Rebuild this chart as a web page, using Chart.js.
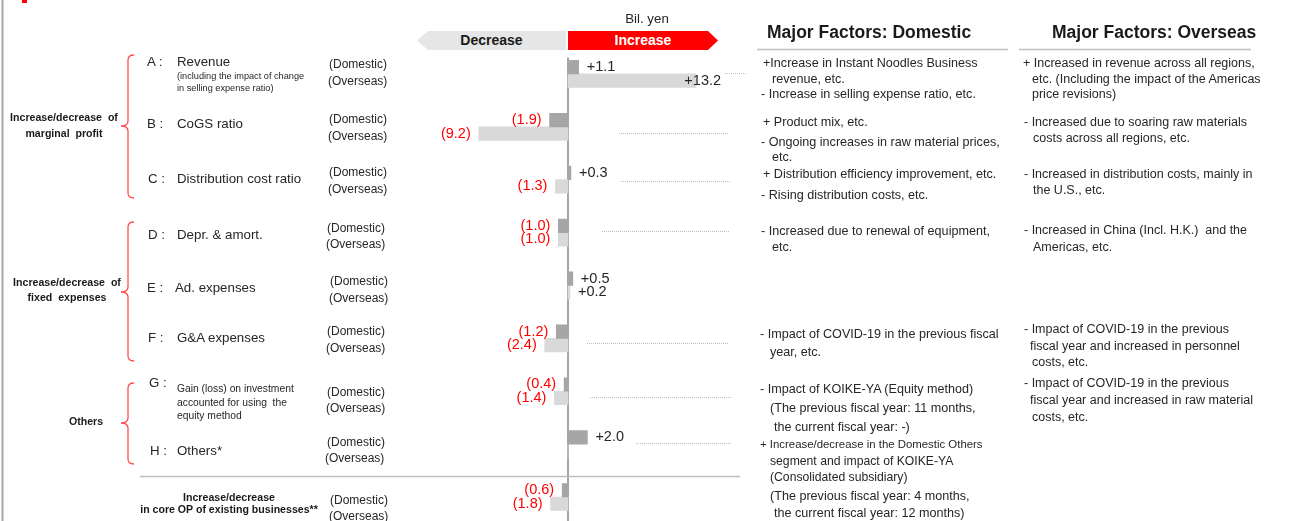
<!DOCTYPE html>
<html>
<head>
<meta charset="utf-8">
<script src="https://cdn.jsdelivr.net/npm/chart.js@4/dist/chart.umd.min.js"></script>
<style>
  html, body { margin: 0; padding: 0; width: 1305px; height: 521px; overflow: hidden; background: #fff; }
  body { position: relative; font-family: 'Liberation Sans', Arial, sans-serif; color: #262626; }
  #chart { position: absolute; left: 0; top: 0; }
  #deco { position: absolute; left: 0; top: 0; }
  .t { position: absolute; transform: translateY(-50%); white-space: pre; line-height: 1; font-size: 13.3px; }
  .c { transform: translate(-50%, -50%); }
  .grp { font-size: 10.6px; font-weight: bold; color: #1a1a1a; }
  .reg { font-size: 12px; }
  .small { font-size: 9.2px; }
  .gain { font-size: 10.3px; }
  .hdr { font-size: 17.5px; font-weight: bold; color: #1a1a1a; }
  .dom { font-size: 12.6px; }
  .ovs { font-size: 12.5px; }
  .arrow { position: absolute; top: 31px; height: 19px; font-weight: bold; font-size: 14px; line-height: 19px; text-align: center; }
</style>
</head>
<body>
<canvas id="chart" width="1305" height="530"></canvas>

<svg id="deco" width="1305" height="521">
  <line x1="2.5" y1="0" x2="2.5" y2="521" stroke="#a6a6a6" stroke-width="2"/>
  <rect x="22" y="0" width="5" height="3" fill="#ff0000"/>
  <g fill="none" stroke="#ff4d4d" stroke-width="1.3">
    <path d="M134,55 Q128,55 128,60 L128,121 Q128,126 121,126 Q128,126 128,131 L128,193 Q128,198 134,198"/>
    <path d="M134,222 Q128,222 128,227 L128,287 Q128,292 121,292 Q128,292 128,297 L128,356 Q128,361 134,361"/>
    <path d="M134,383 Q128,383 128,388 L128,418 Q128,423 121,423 Q128,423 128,428 L128,459 Q128,464 134,464"/>
  </g>
  <line x1="140" y1="476.5" x2="740" y2="476.5" stroke="#bfbfbf" stroke-width="1.3"/>
  <line x1="757" y1="49.5" x2="1008" y2="49.5" stroke="#bfbfbf" stroke-width="1.5"/>
  <line x1="1019" y1="49.5" x2="1251" y2="49.5" stroke="#bfbfbf" stroke-width="1.5"/>
  <g stroke="#bdbdbd" stroke-width="1" stroke-dasharray="1 1">
    <line x1="725" y1="73.5" x2="746" y2="73.5"/>
    <line x1="619" y1="133.5" x2="729" y2="133.5"/>
    <line x1="621" y1="181.5" x2="731" y2="181.5"/>
    <line x1="602" y1="231.5" x2="730" y2="231.5"/>
    <line x1="587" y1="343.5" x2="729" y2="343.5"/>
    <line x1="590" y1="397.5" x2="731" y2="397.5"/>
    <line x1="636" y1="443.5" x2="732" y2="443.5"/>
  </g>
</svg>

<!-- header -->
<div class="t c" style="left:647px;top:19px;">Bil. yen</div>
<div class="arrow" style="left:417px;width:149px;background:#e6e6e6;color:#1a1a1a;clip-path:polygon(0 50%,11px 0,100% 0,100% 100%,11px 100%);">Decrease</div>
<div class="arrow" style="left:568px;width:150px;background:#ff0000;color:#fff;clip-path:polygon(0 0,calc(100% - 10px) 0,100% 50%,calc(100% - 10px) 100%,0 100%);">Increase</div>

<!-- group labels -->
<div class="t c grp" style="left:64px;top:117px;">Increase/decrease  of</div>
<div class="t c grp" style="left:64px;top:133px;">marginal  profit</div>
<div class="t c grp" style="left:67px;top:282px;">Increase/decrease  of</div>
<div class="t c grp" style="left:67px;top:297px;">fixed  expenses</div>
<div class="t c grp" style="left:86px;top:421px;">Others</div>
<div class="t c grp" style="left:229px;top:497px;">Increase/decrease</div>
<div class="t c grp" style="left:229px;top:509px;">in core OP of existing businesses**</div>

<!-- item labels -->
<div class="t" style="left:147px;top:62px;">A :</div>
<div class="t" style="left:177px;top:62px;">Revenue</div>
<div class="t small" style="left:177px;top:77px;">(including the impact of change</div>
<div class="t small" style="left:177px;top:89px;">in selling expense ratio)</div>
<div class="t" style="left:147px;top:124px;">B :</div>
<div class="t" style="left:177px;top:124px;">CoGS ratio</div>
<div class="t" style="left:148px;top:179px;">C :</div>
<div class="t" style="left:177px;top:179px;">Distribution cost ratio</div>
<div class="t" style="left:148px;top:235px;">D :</div>
<div class="t" style="left:177px;top:235px;">Depr. &amp; amort.</div>
<div class="t" style="left:147px;top:288px;">E :</div>
<div class="t" style="left:175px;top:288px;">Ad. expenses</div>
<div class="t" style="left:148px;top:338px;">F :</div>
<div class="t" style="left:177px;top:338px;">G&amp;A expenses</div>
<div class="t" style="left:149px;top:383px;">G :</div>
<div class="t gain" style="left:177px;top:389px;">Gain (loss) on investment</div>
<div class="t gain" style="left:177px;top:403px;">accounted for using  the</div>
<div class="t gain" style="left:177px;top:416px;">equity method</div>
<div class="t" style="left:150px;top:451px;">H :</div>
<div class="t" style="left:177px;top:451px;">Others*</div>

<!-- region labels -->
<div class="t reg" style="left:329px;top:64px;">(Domestic)</div>
<div class="t reg" style="left:328px;top:81px;">(Overseas)</div>
<div class="t reg" style="left:329px;top:119px;">(Domestic)</div>
<div class="t reg" style="left:328px;top:136px;">(Overseas)</div>
<div class="t reg" style="left:329px;top:172px;">(Domestic)</div>
<div class="t reg" style="left:328px;top:189px;">(Overseas)</div>
<div class="t reg" style="left:327px;top:228px;">(Domestic)</div>
<div class="t reg" style="left:326px;top:244px;">(Overseas)</div>
<div class="t reg" style="left:330px;top:281px;">(Domestic)</div>
<div class="t reg" style="left:329px;top:298px;">(Overseas)</div>
<div class="t reg" style="left:327px;top:331px;">(Domestic)</div>
<div class="t reg" style="left:326px;top:348px;">(Overseas)</div>
<div class="t reg" style="left:327px;top:392px;">(Domestic)</div>
<div class="t reg" style="left:326px;top:408px;">(Overseas)</div>
<div class="t reg" style="left:327px;top:442px;">(Domestic)</div>
<div class="t reg" style="left:325px;top:458px;">(Overseas)</div>
<div class="t reg" style="left:330px;top:500px;">(Domestic)</div>
<div class="t reg" style="left:329px;top:516px;">(Overseas)</div>

<!-- major factors: domestic -->
<div class="t hdr" style="left:767px;top:33px;">Major Factors: Domestic</div>
<div class="t dom" style="left:763px;top:63px;">+Increase in Instant Noodles Business</div>
<div class="t dom" style="left:772px;top:79px;">revenue, etc.</div>
<div class="t dom" style="left:761px;top:94px;">- Increase in selling expense ratio, etc.</div>
<div class="t dom" style="left:763px;top:122px;">+ Product mix, etc.</div>
<div class="t dom" style="left:761px;top:142px;">- Ongoing increases in raw material prices,</div>
<div class="t dom" style="left:772px;top:157px;">etc.</div>
<div class="t dom" style="left:763px;top:174px;">+ Distribution efficiency improvement, etc.</div>
<div class="t dom" style="left:761px;top:195px;">- Rising distribution costs, etc.</div>
<div class="t dom" style="left:761px;top:231px;">- Increased due to renewal of equipment,</div>
<div class="t dom" style="left:772px;top:247px;">etc.</div>
<div class="t dom" style="left:760px;top:334px;">- Impact of COVID-19 in the previous fiscal</div>
<div class="t dom" style="left:770px;top:352px;">year, etc.</div>
<div class="t dom" style="left:760px;top:389px;">- Impact of KOIKE-YA (Equity method)</div>
<div class="t dom" style="left:770px;top:408px;">(The previous fiscal year: 11 months,</div>
<div class="t dom" style="left:774px;top:427px;">the current fiscal year: -)</div>
<div class="t" style="left:760px;top:445px;font-size:11.4px;">+ Increase/decrease in the Domestic Others</div>
<div class="t" style="left:770px;top:461px;font-size:12.2px;">segment and impact of KOIKE-YA</div>
<div class="t" style="left:770px;top:477px;font-size:12.2px;">(Consolidated subsidiary)</div>
<div class="t dom" style="left:770px;top:496px;">(The previous fiscal year: 4 months,</div>
<div class="t dom" style="left:774px;top:513px;">the current fiscal year: 12 months)</div>

<!-- major factors: overseas -->
<div class="t hdr" style="left:1052px;top:33px;">Major Factors: Overseas</div>
<div class="t ovs" style="left:1023px;top:63px;">+ Increased in revenue across all regions,</div>
<div class="t ovs" style="left:1032px;top:79px;">etc. (Including the impact of the Americas</div>
<div class="t ovs" style="left:1032px;top:94px;">price revisions)</div>
<div class="t ovs" style="left:1024px;top:122px;">- Increased due to soaring raw materials</div>
<div class="t ovs" style="left:1033px;top:138px;">costs across all regions, etc.</div>
<div class="t ovs" style="left:1024px;top:174px;">- Increased in distribution costs, mainly in</div>
<div class="t ovs" style="left:1033px;top:190px;">the U.S., etc.</div>
<div class="t ovs" style="left:1024px;top:230px;">- Increased in China (Incl. H.K.)  and the</div>
<div class="t ovs" style="left:1033px;top:247px;">Americas, etc.</div>
<div class="t ovs" style="left:1024px;top:329px;">- Impact of COVID-19 in the previous</div>
<div class="t ovs" style="left:1030px;top:346px;">fiscal year and increased in personnel</div>
<div class="t ovs" style="left:1032px;top:362px;">costs, etc.</div>
<div class="t ovs" style="left:1024px;top:383px;">- Impact of COVID-19 in the previous</div>
<div class="t ovs" style="left:1030px;top:400px;">fiscal year and increased in raw material</div>
<div class="t ovs" style="left:1032px;top:417px;">costs, etc.</div>

<script>
// Bil. yen, year-on-year change in core operating profit by factor
const factors  = ['A', 'B', 'C', 'D', 'E', 'F', 'G', 'H', 'Total'];
const domestic = [1.1, -1.9, 0.3, -1.0, 0.5, -1.2, -0.4, 2.0, -0.6];
const overseas = [13.2, -9.2, -1.3, -1.0, 0.2, -2.4, -1.4, 0, -1.8];

const COLORS = {
  domestic: '#a6a6a6',
  overseas: '#d9d9d9',
  axis:     '#a6a6a6',
  pos:      '#262626',
  neg:      '#ff0000',
};

function fmt(v) {
  return v > 0 ? '+' + v.toFixed(1) : '(' + Math.abs(v).toFixed(1) + ')';
}

// zero line behind the bars
const zeroLine = {
  id: 'zeroLine',
  beforeDatasetsDraw(chart) {
    const { ctx, chartArea, scales } = chart;
    const x = Math.round(scales.x.getPixelForValue(0));
    ctx.save();
    ctx.strokeStyle = COLORS.axis;
    ctx.lineWidth = 2;
    ctx.beginPath();
    ctx.moveTo(x, chartArea.top + 10);
    ctx.lineTo(x, chart.height);
    ctx.stroke();
    ctx.restore();
  },
};

// value labels next to each bar end
const valueLabels = {
  id: 'valueLabels',
  afterDatasetsDraw(chart) {
    const { ctx } = chart;
    ctx.save();
    ctx.font = "14.5px 'Liberation Sans', Arial, sans-serif";
    ctx.textBaseline = 'middle';
    chart.data.datasets.forEach((ds, di) => {
      chart.getDatasetMeta(di).data.forEach((bar, i) => {
        const v = ds.data[i];
        if (!v) return;
        if (v > 0) {
          ctx.fillStyle = COLORS.pos;
          // long bars carry the label over their end
          if (bar.x - bar.base > 100) {
            ctx.textAlign = 'right';
            ctx.fillText(fmt(v), bar.x + 25, bar.y);
          } else {
            ctx.textAlign = 'left';
            ctx.fillText(fmt(v), bar.x + 8, bar.y);
          }
        } else {
          ctx.fillStyle = COLORS.neg;
          ctx.textAlign = 'right';
          ctx.fillText(fmt(v), bar.x - 8, bar.y);
        }
      });
    });
    ctx.restore();
  },
};

new Chart(document.getElementById('chart'), {
  type: 'bar',
  data: {
    labels: factors,
    datasets: [
      { label: 'Domestic', data: domestic, backgroundColor: COLORS.domestic, barThickness: 13.5 },
      { label: 'Overseas', data: overseas, backgroundColor: COLORS.overseas, barThickness: 13.5 },
    ],
  },
  options: {
    indexAxis: 'y',
    responsive: false,
    animation: false,
    devicePixelRatio: 1,
    layout: { padding: { top: 47.5, bottom: 6.6, left: 374, right: 543 } },
    plugins: { legend: { display: false }, tooltip: { enabled: false } },
    scales: {
      x: { display: false, min: -20, max: 20 },
      y: { display: false },
    },
  },
  plugins: [zeroLine, valueLabels],
});
</script>
</body>
</html>
